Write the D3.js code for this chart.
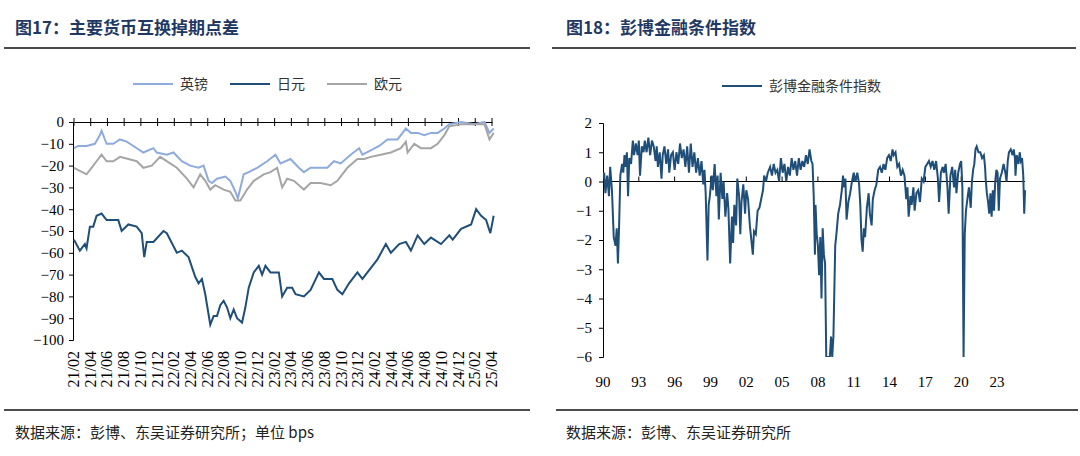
<!DOCTYPE html>
<html>
<head>
<meta charset="utf-8">
<script src="https://cdn.jsdelivr.net/npm/d3@7"></script>
<style>
  body { margin: 0; background: #fff; }
  svg text { font-family: "Liberation Serif", "Noto Sans CJK SC", serif; }
  svg text.cn { font-family: "Noto Sans CJK SC", sans-serif; }
</style>
</head>
<body>
<svg id="chart" width="1080" height="456"></svg>
<script>
// ---- left chart: swap spreads (month index 0 = 21/02) ----
var tickLabels = ["21/02","21/04","21/06","21/08","21/10","21/12","22/02","22/04","22/06","22/08","22/10","22/12","23/02","23/04","23/06","23/08","23/10","23/12","24/02","24/04","24/06","24/08","24/10","24/12","25/02","25/04"];

var gbpMonths = [0,0.5,1.5,2.5,3.1,3.3,3.9,4.7,5.5,6.3,7.1,8.3,9.5,9.9,11.1,11.9,12.9,13.9,14.9,15.5,16.1,16.5,17.1,18.1,18.7,19.3,19.6,20.3,20.9,21.9,23.1,24.1,24.7,25.9,26.9,27.5,28.3,29.5,30.3,31.1,31.9,33.1,34.1,34.5,35.5,36.5,37.5,38.7,39.7,40.3,41.1,41.9,42.7,43.5,44.3,44.9,46.3,47.9,49.1,49.7,50.2];
var gbp = [-12,-11,-11,-10,-6,-4,-10,-10,-8,-9,-11,-14,-12,-14,-15,-14,-18,-20,-21,-20,-27,-28,-26,-25,-27,-32,-35,-24,-23,-21,-18,-15,-19,-17,-21,-23,-21,-21,-21,-18,-19,-15,-12,-15,-13,-11,-8,-8,-3,-5,-5,-6,-5,-5,-3,-1,0,-1,0,-5,-3];

var jpyMonths = [0,0.7,1.3,1.5,1.9,2.3,2.7,3.3,3.9,4.9,5.3,5.7,6.5,7.5,8.1,8.4,8.7,9.5,10.7,11.1,12.3,12.9,13.7,14.5,14.9,15.3,15.7,16.3,16.7,17.1,17.5,17.9,18.3,18.7,19.1,19.5,20.1,20.5,20.9,21.5,22.1,22.5,22.9,23.5,24.5,24.9,25.5,26.1,26.5,27.5,28.3,29.3,29.9,30.9,31.5,32.1,32.9,33.9,34.5,35.1,35.7,36.3,37.3,37.9,38.9,39.7,40.3,41.1,41.9,42.7,43.9,44.9,45.3,46.3,47.5,48.1,48.7,49.3,49.8,50.2];
var jpy = [-54,-59,-56,-58,-48,-48,-43,-42,-45,-45,-45,-50,-47,-48,-51,-62,-55,-55,-50,-51,-60,-59,-62,-71,-74,-72,-79,-93,-89,-89,-84,-82,-85,-90,-86,-90,-92,-85,-76,-69,-66,-70,-66,-69,-69,-80,-76,-76,-79,-80,-77,-69,-72,-72,-77,-79,-74,-69,-72,-69,-66,-63,-56,-60,-56,-55,-59,-52,-56,-53,-56,-52,-54,-49,-47,-40,-43,-45,-51,-43];

var eurMonths = [0,1.5,2.1,2.7,3.3,3.9,4.7,5.5,6.5,7.5,8.3,9.3,10.3,11.5,12.3,13.5,14.3,15.1,15.7,16.3,16.9,17.9,18.7,19.3,19.9,20.7,21.5,22.7,23.5,24.3,24.9,25.5,26.3,27.5,28.3,29.5,30.7,31.5,32.7,33.9,34.7,35.5,36.7,37.9,39.1,39.7,39.9,40.7,41.5,42.7,43.5,44.3,44.9,46.3,47.9,49.1,49.7,50.2];
var eur = [-21,-24,-21,-18,-15,-18,-18,-16,-17,-18,-21,-20,-16,-19,-21,-26,-30,-24,-27,-31,-29,-31,-32,-36,-36,-31,-27,-24,-23,-21,-30,-26,-27,-31,-28,-28,-29,-27,-21,-17,-17,-16,-15,-14,-12,-9,-14,-10,-12,-12,-10,-6,-2,-1,-1,-1,-8,-5];

// ---- right chart: Bloomberg FCI ----
var fciYears = [1990.0,1990.1,1990.2,1990.35,1990.5,1990.6,1990.75,1990.9,1991.05,1991.15,1991.25,1991.35,1991.45,1991.6,1991.7,1991.8,1991.9,1992.0,1992.1,1992.2,1992.35,1992.5,1992.6,1992.75,1992.9,1993.0,1993.1,1993.25,1993.4,1993.5,1993.65,1993.8,1993.95,1994.1,1994.25,1994.4,1994.5,1994.6,1994.75,1994.9,1995.0,1995.15,1995.3,1995.45,1995.55,1995.7,1995.85,1996.0,1996.15,1996.3,1996.45,1996.6,1996.75,1996.9,1997.05,1997.2,1997.35,1997.5,1997.65,1997.8,1997.95,1998.1,1998.25,1998.4,1998.5,1998.6,1998.75,1998.85,1998.95,1999.1,1999.2,1999.35,1999.5,1999.6,1999.7,1999.85,2000.0,2000.1,2000.25,2000.4,2000.5,2000.65,2000.8,2000.9,2001.0,2001.15,2001.25,2001.4,2001.5,2001.6,2001.75,2001.9,2002.0,2002.15,2002.3,2002.45,2002.55,2002.65,2002.8,2002.95,2003.1,2003.25,2003.4,2003.5,2003.65,2003.8,2004.0,2004.15,2004.3,2004.45,2004.6,2004.75,2004.9,2005.05,2005.2,2005.35,2005.5,2005.65,2005.8,2005.95,2006.1,2006.25,2006.4,2006.55,2006.7,2006.85,2007.0,2007.15,2007.3,2007.45,2007.55,2007.65,2007.75,2007.8,2007.9,2008.0,2008.1,2008.2,2008.3,2008.4,2008.5,2008.6,2008.7,2008.8,2009.0,2009.1,2009.2,2009.3,2009.45,2009.55,2009.7,2009.85,2010.0,2010.1,2010.2,2010.3,2010.4,2010.55,2010.7,2010.85,2011.0,2011.15,2011.3,2011.45,2011.55,2011.65,2011.75,2011.85,2011.95,2012.1,2012.25,2012.35,2012.5,2012.6,2012.75,2012.9,2013.05,2013.2,2013.35,2013.5,2013.65,2013.8,2013.95,2014.1,2014.25,2014.35,2014.5,2014.65,2014.8,2014.95,2015.1,2015.25,2015.4,2015.5,2015.6,2015.75,2015.85,2016.0,2016.1,2016.25,2016.4,2016.55,2016.7,2016.85,2017.0,2017.15,2017.3,2017.45,2017.6,2017.75,2017.9,2018.05,2018.15,2018.3,2018.45,2018.55,2018.7,2018.85,2018.95,2019.1,2019.25,2019.4,2019.5,2019.6,2019.75,2019.9,2020.0,2020.1,2020.2,2020.3,2020.4,2020.55,2020.65,2020.8,2020.9,2021.0,2021.1,2021.2,2021.3,2021.45,2021.6,2021.75,2021.9,2022.0,2022.05,2022.15,2022.25,2022.35,2022.45,2022.55,2022.65,2022.75,2022.85,2022.95,2023.05,2023.15,2023.25,2023.4,2023.55,2023.7,2023.8,2023.9,2024.0,2024.15,2024.3,2024.4,2024.5,2024.55,2024.65,2024.8,2024.9,2025.0,2025.1,2025.2,2025.28,2025.35];
var fci = [0.1,0.3,-0.4,0.2,-0.5,0.5,-0.3,-1.9,-2.2,-1.6,-2.8,-1.5,0.2,0.6,0.3,0.9,0.5,1.0,-0.5,0.8,0.6,1.4,0.9,1.3,0.9,1.4,0.2,1.2,1.0,1.4,1.0,1.5,0.9,1.4,1.2,0.7,1.2,0.5,1.0,0.1,0.9,1.2,0.6,1.1,0.3,0.9,1.0,0.4,1.0,0.6,1.3,0.8,1.1,0.5,1.2,0.3,1.3,0.5,1.0,0.3,0.8,0.2,0.7,-0.1,0.4,-0.4,-2.7,-0.8,-0.5,0.2,-0.3,0.6,-0.5,0.2,-1.3,0.3,-0.6,0.0,-1.2,-0.4,-0.9,-2.8,-1.2,-2.1,-0.8,-1.5,0.1,-0.5,-1.8,-0.7,-0.1,-1.1,-0.3,-0.6,-1.5,-2.1,-2.5,-1.7,-1.8,-1.0,-0.9,-0.6,-0.3,0.2,0.0,0.3,0.5,0.2,0.6,0.3,0.4,0.0,0.8,0.3,0.6,0.0,0.5,0.2,0.8,0.4,0.7,0.2,0.8,0.4,0.7,0.5,0.9,0.6,1.1,0.7,0.6,-0.5,-2.5,-0.8,-1.8,-2.2,-3.2,-1.9,-4.0,-1.6,-2.5,-2.8,-6.0,-6.0,-6.0,-5.3,-6.0,-5.3,-2.2,-1.8,-1.1,-0.8,-0.3,0.2,-0.2,0.1,-1.3,-0.7,-0.4,0.0,0.3,0.0,0.3,-0.1,-0.8,-2.0,-2.4,-1.6,-1.9,-0.9,-0.4,-1.1,-1.5,-0.6,-0.3,-0.1,0.4,0.5,0.3,0.6,0.4,0.8,0.9,0.7,1.1,0.9,1.0,0.5,0.6,0.2,0.4,0.2,-0.6,-0.2,-1.2,-0.5,-0.8,-0.2,-1.0,-0.4,-0.3,-0.7,0.1,0.0,0.5,0.6,0.7,0.5,0.7,0.4,0.7,0.1,-0.7,0.3,0.5,0.3,0.6,-0.2,-1.1,0.2,0.5,-0.2,0.4,-0.4,0.3,0.6,0.7,-0.2,-6.0,-1.8,-1.0,-0.5,-0.2,-0.9,0.0,0.4,0.6,1.1,1.2,1.0,1.0,0.8,0.9,0.5,0.1,-0.4,-0.7,-1.1,-0.4,-1.2,-0.3,-1.0,0.0,0.4,0.3,-1.0,0.1,0.3,0.6,0.3,0.0,0.7,1.0,1.1,0.9,1.1,0.8,0.2,0.9,0.6,1.0,0.7,0.8,0.2,-1.1,-0.3];
var fciTicks = [1990,1993,1996,1999,2002,2005,2008,2011,2014,2017,2020,2023];

var svg = d3.select("#chart");
var navy = "#1f3864";
var serif = "'Liberation Serif', serif";

// titles & rules
svg.append("text").attr("class","cn").attr("x",15).attr("y",34).attr("font-size",17).attr("font-weight","bold").attr("fill",navy).text("图17：主要货币互换掉期点差");
svg.append("text").attr("class","cn").attr("x",566).attr("y",34).attr("font-size",17).attr("font-weight","bold").attr("fill",navy).text("图18：彭博金融条件指数");
[[4,530,48],[552,1076,48],[4,530,410],[556,1078,410]].forEach(function(r){
  svg.append("line").attr("x1",r[0]).attr("x2",r[1]).attr("y1",r[2]).attr("y2",r[2]).attr("stroke","#111").attr("stroke-width",1.5);
});
svg.append("text").attr("class","cn").attr("x",15).attr("y",438).attr("font-size",15).attr("fill","#222").text("数据来源：彭博、东吴证券研究所；单位 bps");
svg.append("text").attr("class","cn").attr("x",566).attr("y",438).attr("font-size",15).attr("fill","#222").text("数据来源：彭博、东吴证券研究所");

// ---- left chart ----
var x1 = d3.scaleLinear().domain([0,50]).range([74,492]);
var y1 = d3.scaleLinear().domain([-100,0]).range([340,122]);
var g1 = svg.append("g");
g1.append("g").attr("transform","translate(73,0)")
  .call(d3.axisLeft(y1).tickValues(d3.range(-100,1,10)).tickSize(4).tickFormat(d3.format("d")))
  .call(function(g){ g.attr("font-family",serif); g.select(".domain").attr("stroke","#000"); g.selectAll("text").attr("font-size",15).attr("fill","#000").attr("dx",-2); });
g1.append("g").attr("transform","translate(0,122)")
  .call(d3.axisBottom(x1).tickValues(d3.range(0,51,2)).tickSize(0).tickFormat(""))
  .call(function(g){ g.select(".domain").attr("stroke","#000"); });
g1.selectAll(".xt").data(d3.range(0,51,2)).enter().append("line")
  .attr("x1",function(d){return x1(d);}).attr("x2",function(d){return x1(d);})
  .attr("y1",118).attr("y2",126).attr("stroke","#000");
g1.selectAll(".xl").data(tickLabels).enter().append("text")
  .attr("transform",function(d,i){ return "translate(" + (x1(i*2)+5) + ",351) rotate(-90)"; })
  .attr("text-anchor","end").attr("font-size",16).attr("fill","#000").text(function(d){return d;});

var line1 = d3.line().x(function(d){return x1(d[0]);}).y(function(d){return y1(d[1]);});
var series1 = [
  {name:"英镑", color:"#8faadc", m:gbpMonths, v:gbp},
  {name:"日元", color:"#1f4e79", m:jpyMonths, v:jpy},
  {name:"欧元", color:"#a5a5a5", m:eurMonths, v:eur}
];
series1.forEach(function(s){
  g1.append("path").datum(d3.zip(s.m, s.v)).attr("d",line1)
    .attr("fill","none").attr("stroke",s.color).attr("stroke-width",2);
});
var legX = [133,230,327];
series1.forEach(function(s,i){
  g1.append("line").attr("x1",legX[i]).attr("x2",legX[i]+40).attr("y1",84).attr("y2",84).attr("stroke",s.color).attr("stroke-width",2);
  g1.append("text").attr("class","cn").attr("x",legX[i]+47).attr("y",89).attr("font-size",14).attr("fill","#333").text(s.name);
});

// ---- right chart ----
var x2 = d3.scaleLinear().domain([1990,2023]).range([603,997]);
var y2 = d3.scaleLinear().domain([-6,2]).range([357,123]);
var g2 = svg.append("g");
g2.append("defs").append("clipPath").attr("id","c2").append("rect")
  .attr("x",603).attr("y",y2(2)).attr("width",460).attr("height",y2(-6)-y2(2));
g2.append("g").attr("transform","translate(603,0)")
  .call(d3.axisLeft(y2).ticks(8).tickSize(4).tickFormat(d3.format("d")))
  .call(function(g){ g.attr("font-family",serif); g.select(".domain").attr("stroke","#000"); g.selectAll("text").attr("font-size",15).attr("fill","#000").attr("dx",-4); });
g2.append("line").attr("x1",603).attr("x2",x2(2025.35)).attr("y1",y2(0)).attr("y2",y2(0)).attr("stroke","#000");
g2.selectAll(".ft").data(fciTicks.slice(1)).enter().append("line")
  .attr("x1",function(d){return x2(d);}).attr("x2",function(d){return x2(d);})
  .attr("y1",y2(0)-5).attr("y2",y2(0)).attr("stroke","#000");
g2.selectAll(".fl").data(fciTicks).enter().append("text")
  .attr("x",function(d){return x2(d);}).attr("y",387).attr("text-anchor","middle")
  .attr("font-size",15).attr("fill","#000").text(function(d){ return String(d).slice(2); });
var line2 = d3.line().x(function(d){return x2(d[0]);}).y(function(d){return y2(d[1]);});
g2.append("path").datum(d3.zip(fciYears, fci)).attr("d",line2).attr("clip-path","url(#c2)")
  .attr("fill","none").attr("stroke","#1f4e79").attr("stroke-width",2);
g2.append("line").attr("x1",722).attr("x2",762).attr("y1",86).attr("y2",86).attr("stroke","#1f4e79").attr("stroke-width",2);
g2.append("text").attr("class","cn").attr("x",769).attr("y",91).attr("font-size",14).attr("fill","#333").text("彭博金融条件指数");
</script>
</body>
</html>
